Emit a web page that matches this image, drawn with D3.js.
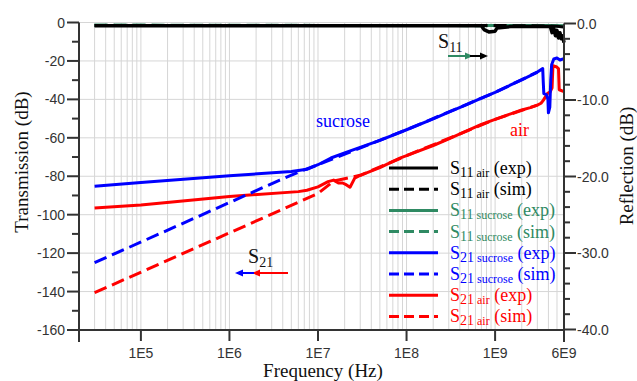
<!DOCTYPE html>
<html>
<head>
<meta charset="utf-8">
<script src="https://cdn.jsdelivr.net/npm/d3@7"></script>
<style>
  body { margin: 0; background: #fff; }
  svg { display: block; }
</style>
</head>
<body>
<div id="canvas"></div>
<script>
// ---- data (frequency in Hz, value in dB) ----
const xTicks = [1e5, 1e6, 1e7, 1e8, 1e9, 6e9];
const xTickLabels = ["1E5", "1E6", "1E7", "1E8", "1E9", "6E9"];
const leftTicks = [0, -20, -40, -60, -80, -100, -120, -140, -160];
const rightTicks = [0, -10, -20, -30, -40];

// S21 (left axis)
const s21SucroseExp = [
  [3e4, -85.2], [1e5, -83.3], [1e6, -79.8], [5e6, -77.5], [7.5e6, -76.4], [1e7, -74], [1.4e7, -70.5],
  [2e7, -67.8], [5e7, -61.3], [1e8, -55.8], [2e8, -50.2], [3e8, -46.6], [5e8, -42.3], [7e8, -39.3],
  [1e9, -36.4], [1.5e9, -32.5], [2e9, -29.8], [2.5e9, -27.6], [3e9, -25.8], [3.45e9, -24],
  [3.5e9, -31], [3.55e9, -37], [3.8e9, -37.5], [3.95e9, -40], [4e9, -47], [4.15e9, -44],
  [4.25e9, -30], [4.35e9, -22], [4.6e9, -19], [5e9, -18.5], [5.4e9, -19.5], [6e9, -18.8]
];
const s21SucroseSim = [
  [3e4, -125], [3.7e6, -82], [6.3e6, -77.5], [1e7, -74], [1e8, -55.8], [1e9, -36.4], [3e9, -25.8]
];
const s21AirExp = [
  [3e4, -96.5], [1e5, -95], [1e6, -90.5], [6e6, -88], [7.5e6, -87.3], [1e7, -85.5], [1.3e7, -82.8],
  [1.5e7, -82], [1.7e7, -83.5], [1.9e7, -83.5], [2.1e7, -84.5], [2.3e7, -85.7], [2.6e7, -81],
  [3e7, -79.5], [5e7, -75.5], [8.4e7, -70.6], [1e8, -69.3], [2e8, -64], [3e8, -60.5], [5e8, -56],
  [7e8, -53], [1e9, -50.4], [1.5e9, -47.5], [2e9, -45.5], [2.5e9, -44.3], [3e9, -43], [3.3e9, -42],
  [3.5e9, -40.5], [3.9e9, -37], [4.2e9, -36], [4.4e9, -34], [4.5e9, -22.5], [4.9e9, -23],
  [5.2e9, -24], [5.3e9, -35], [6e9, -36]
];
const s21AirSim = [
  [3e4, -140.6], [1e7, -89], [1.5e7, -82.5], [3e7, -79.5], [1e8, -69.3], [1e9, -50.4], [3e9, -43]
];

// S11 (right axis)
const s11AirExp = [
  [3e4, -0.3], [7e8, -0.3], [7.5e8, -0.8], [8.5e8, -1.1], [1e9, -1.0], [1.05e9, -0.6], [1.5e9, -0.4],
  [4.2e9, -0.4], [4.4e9, -1.2], [4.6e9, -0.6], [4.8e9, -1.6], [5e9, -0.9], [5.2e9, -1.9],
  [5.4e9, -1.2], [5.6e9, -2.0], [5.8e9, -1.6], [6e9, -2.5]
];
const s11AirSim = [[3e4, -0.25], [1e9, -0.25], [5e9, -0.35], [6e9, -0.45]];
const s11SucroseExp = [[3e4, -0.25], [4e9, -0.25], [5e9, -0.3], [6e9, -0.4]];
const s11SucroseSim = [[3e4, -0.2], [6e9, -0.3]];

const legendLabels = [
  { sub: "11", mat: "air", kind: "(exp)", color: "#000000", dash: false },
  { sub: "11", mat: "air", kind: "(sim)", color: "#000000", dash: true },
  { sub: "11", mat: "sucrose", kind: "(exp)", color: "#2f8a63", dash: false },
  { sub: "11", mat: "sucrose", kind: "(sim)", color: "#2f8a63", dash: true },
  { sub: "21", mat: "sucrose", kind: "(exp)", color: "#0000ff", dash: false },
  { sub: "21", mat: "sucrose", kind: "(sim)", color: "#0000ff", dash: true },
  { sub: "21", mat: "air", kind: "(exp)", color: "#ff0000", dash: false },
  { sub: "21", mat: "air", kind: "(sim)", color: "#ff0000", dash: true }
];

const width = 637;
const height = 381;
const serif = "'Liberation Serif', 'Times New Roman', serif";
const sans = "'Liberation Sans', Arial, sans-serif";
const green = "#2f8a63";

const svg = d3.select("#canvas").append("svg")
    .attr("width", width)
    .attr("height", height);

const x = d3.scaleLog().domain([2e4, 6e9]).range([79, 564]);
const yL = d3.scaleLinear().domain([-160, 0]).range([330, 22.5]);
const yR = d3.scaleLinear().domain([-40, 0]).range([329.5, 23.5]);

// grid
const grid = svg.append("g");
const vGrid = [];
for (let e = 4; e <= 9; e++) {
  for (let k = 1; k <= 9; k++) {
    const v = k * Math.pow(10, e);
    if (v > 2e4 && v < 6e9) vGrid.push(v);
  }
}
grid.selectAll("line.v").data(vGrid).enter().append("line")
    .attr("x1", d => x(d)).attr("x2", d => x(d))
    .attr("y1", yL(0)).attr("y2", yL(-160))
    .style("stroke", "#d6d6d6").style("stroke-width", 1);
grid.selectAll("line.h").data(leftTicks.filter(d => d > -160)).enter().append("line")
    .attr("x1", x(2e4)).attr("x2", x(6e9))
    .attr("y1", d => yL(d)).attr("y2", d => yL(d))
    .style("stroke", "#d6d6d6").style("stroke-width", 1);

// lines
const lineL = d3.line().x(d => x(d[0])).y(d => yL(d[1]));
const lineR = d3.line().x(d => x(d[0])).y(d => yR(d[1]));

function draw(data, gen, color, dash, w) {
  svg.append("path")
    .datum(data)
    .attr("d", gen)
    .style("fill", "none")
    .style("stroke", color)
    .style("stroke-width", w || 3)
    .style("stroke-linejoin", "round")
    .style("stroke-dasharray", dash ? "13,6" : null);
}

draw(s11SucroseSim, lineR, green, true);
draw(s11SucroseExp, lineR, green, false);
draw(s21AirSim, lineL, "#ff0000", true);
draw(s21AirExp, lineL, "#ff0000", false);
draw(s21SucroseSim, lineL, "#0000ff", true);
draw(s21SucroseExp, lineL, "#0000ff", false);
draw(s11AirExp, lineR, "#000000", false, 3.5);
draw(s11AirSim, lineR, "#000000", true, 3);

// axes
const axisColor = "#333";
const ax = svg.append("g").style("stroke", axisColor).style("stroke-width", 2);
ax.append("line").attr("x1", 79).attr("x2", 79).attr("y1", yL(0)).attr("y2", 342);
ax.append("line").attr("x1", 564).attr("x2", 564).attr("y1", yR(0)).attr("y2", 342);
ax.append("line").attr("x1", 79).attr("x2", 564).attr("y1", yL(-160)).attr("y2", yL(-160));

// left ticks
ax.selectAll("line.lt").data(leftTicks).enter().append("line")
    .attr("x1", 67).attr("x2", 79).attr("y1", d => yL(d)).attr("y2", d => yL(d));
ax.selectAll("line.lm").data(d3.range(-150, 0, 20)).enter().append("line")
    .attr("x1", 72).attr("x2", 79).attr("y1", d => yL(d)).attr("y2", d => yL(d));
// right ticks
ax.selectAll("line.rt").data(rightTicks).enter().append("line")
    .attr("x1", 564).attr("x2", 576).attr("y1", d => yR(d)).attr("y2", d => yR(d));
ax.selectAll("line.rm").data(d3.range(-38, 0, 2).filter(d => d % 10 !== 0)).enter().append("line")
    .attr("x1", 564).attr("x2", 570).attr("y1", d => yR(d)).attr("y2", d => yR(d));
// bottom ticks
ax.selectAll("line.bt").data(xTicks).enter().append("line")
    .attr("x1", d => x(d)).attr("x2", d => x(d)).attr("y1", yL(-160)).attr("y2", 341);

// tick labels
svg.selectAll("text.ll").data(leftTicks).enter().append("text")
    .attr("x", 65).attr("y", d => yL(d) + 5)
    .attr("text-anchor", "end")
    .style("font-family", sans).style("font-size", "14px").style("fill", "#333")
    .text(d => d);
svg.selectAll("text.rl").data(rightTicks).enter().append("text")
    .attr("x", 577).attr("y", d => yR(d) + 5)
    .style("font-family", sans).style("font-size", "14px").style("fill", "#333")
    .text(d => d.toFixed(1));
svg.selectAll("text.bl").data(xTicks).enter().append("text")
    .attr("x", (d, i) => x(d)).attr("y", 358)
    .attr("text-anchor", "middle")
    .style("font-family", sans).style("font-size", "14px").style("fill", "#333")
    .text((d, i) => xTickLabels[i]);

// axis titles
svg.append("text")
    .attr("transform", "translate(28,162) rotate(-90)")
    .attr("text-anchor", "middle")
    .style("font-family", serif).style("font-size", "19px").style("fill", "#111")
    .text("Transmission (dB)");
svg.append("text")
    .attr("transform", "translate(633,166) rotate(-90)")
    .attr("text-anchor", "middle")
    .style("font-family", serif).style("font-size", "19px").style("fill", "#111")
    .text("Reflection (dB)");
svg.append("text")
    .attr("x", 323).attr("y", 377)
    .attr("text-anchor", "middle")
    .style("font-family", serif).style("font-size", "19px").style("fill", "#111")
    .text("Frequency (Hz)");

// annotations
svg.append("text").attr("x", 316).attr("y", 127)
    .style("font-family", serif).style("font-size", "18px").style("fill", "#0000ff")
    .text("sucrose");
svg.append("text").attr("x", 510).attr("y", 136)
    .style("font-family", serif).style("font-size", "18px").style("fill", "#ff0000")
    .text("air");

function sLabel(px, py, sub, color) {
  const t = svg.append("text").attr("x", px).attr("y", py)
      .style("font-family", serif).style("fill", color || "#111");
  t.append("tspan").style("font-size", "20px").text("S");
  t.append("tspan").attr("dy", 4).style("font-size", "14px").text(sub);
}
sLabel(438, 48, "11");
sLabel(248, 263, "21");

function arrow(x1, x2, yy, color) {
  const dir = x2 > x1 ? 1 : -1;
  svg.append("line").attr("x1", x1).attr("x2", x2 - dir * 4).attr("y1", yy).attr("y2", yy)
      .style("stroke", color).style("stroke-width", 2);
  svg.append("path")
      .attr("d", `M${x2},${yy} L${x2 - dir * 8},${yy - 3.5} L${x2 - dir * 8},${yy + 3.5} Z`)
      .style("fill", color);
}
arrow(448, 473, 56, green);
arrow(470, 488, 56, "#000");
arrow(288, 252, 273, "#ff0000");
arrow(254, 235, 273, "#0000ff");

// legend
const leg = svg.append("g");
legendLabels.forEach((d, i) => {
  const ly = 168 + i * 21.2;
  leg.append("line")
      .attr("x1", 389).attr("x2", 438).attr("y1", ly).attr("y2", ly)
      .style("stroke", d.color).style("stroke-width", 3)
      .style("stroke-dasharray", d.dash ? "10,5" : null);
  const t = leg.append("text").attr("x", 450).attr("y", ly + 6)
      .style("font-family", serif).style("fill", d.color);
  t.append("tspan").style("font-size", "18px").text("S");
  t.append("tspan").attr("dy", 3).style("font-size", "14px").text(d.sub);
  t.append("tspan").style("font-size", "12px").text(" " + d.mat);
  t.append("tspan").attr("dy", -3).style("font-size", "18px").text(" " + d.kind);
});
</script>
</body>
</html>
